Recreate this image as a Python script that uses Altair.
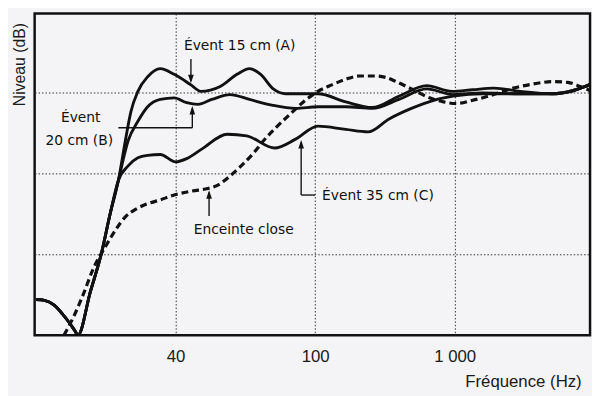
import altair as alt
import pandas as pd

# ---- axis definitions (positions along a schematic log-frequency axis) ----
x_ticks = [1, 2, 3]
x_tick_labels = ["40", "100", "1 000"]
y_grid = [10, 20, 30]

# ---- common start (low-frequency lobe + steep rise), shared by the 3 vented curves ----
start_x = [0.00, 0.06, 0.13, 0.19, 0.24, 0.28, 0.30, 0.39, 0.47, 0.53, 0.59]
start_y = [4.4, 4.3, 3.7, 2.6, 1.5, 0.5, 0.0, 5.4, 10.2, 14.9, 19.1]

# ---- Évent 15 cm (A) ----
a_x = [0.64, 0.68, 0.73, 0.80, 0.89, 0.99, 1.11, 1.18, 1.32, 1.44, 1.53, 1.61, 1.70, 1.79,
       2.02, 2.22, 2.41, 2.60, 2.80, 2.98, 3.13, 3.28, 3.47, 3.70, 3.84, 3.97]
a_y = [24.0, 27.6, 30.1, 31.9, 32.9, 32.2, 30.9, 30.1, 30.7, 32.2, 32.9, 32.2, 30.4, 29.8,
       29.8, 28.8, 28.1, 29.5, 30.8, 30.1, 30.3, 30.5, 30.1, 29.8, 30.1, 31.0]

# ---- Évent 20 cm (B) ----
b_x = [0.66, 0.73, 0.80, 0.89, 0.99, 1.08, 1.16, 1.26, 1.39, 1.53, 1.69, 1.86, 2.02, 2.22,
       2.41, 2.60, 2.80, 2.99, 3.20, 3.47, 3.70, 3.97]
b_y = [24.0, 26.4, 28.2, 29.1, 29.3, 28.7, 28.5, 29.1, 29.7, 29.1, 28.4, 28.0, 28.2, 28.2,
       28.0, 29.1, 30.4, 29.7, 29.9, 29.8, 29.8, 30.9]

# ---- Évent 35 cm (C) ----
c_x = [0.66, 0.73, 0.80, 0.89, 1.00, 1.08, 1.19, 1.37, 1.51, 1.71, 1.86, 2.02, 2.22, 2.38,
       2.53, 2.69, 2.85, 2.99, 3.20, 3.47, 3.70, 3.97]
c_y = [20.9, 21.9, 22.2, 22.3, 21.4, 21.8, 23.0, 24.8, 24.6, 23.1, 24.2, 25.8, 25.4, 25.1,
       26.7, 28.0, 29.0, 29.5, 29.8, 29.8, 29.8, 30.9]

# ---- Enceinte close (dashed) ----
d_x = [0.20, 0.27, 0.34, 0.41, 0.50, 0.57, 0.64, 0.71, 0.78, 0.89, 0.99, 1.12, 1.23, 1.31,
       1.38, 1.47, 1.56, 1.63, 1.73, 1.84, 1.93, 2.02, 2.12, 2.22, 2.32, 2.43, 2.51, 2.58,
       2.69, 2.82, 2.92, 3.01, 3.13, 3.28, 3.42, 3.56, 3.70, 3.81, 3.90, 3.97]
d_y = [0.0, 2.3, 5.1, 8.2, 11.0, 13.0, 14.6, 15.5, 16.1, 16.7, 17.3, 17.8, 18.1, 18.6,
       19.5, 20.9, 22.5, 24.0, 25.8, 27.6, 29.0, 30.1, 30.9, 31.6, 32.0, 32.0, 31.8, 31.3,
       30.4, 29.3, 28.8, 28.6, 29.0, 29.7, 30.5, 31.0, 31.3, 31.2, 30.7, 30.2]

# ---- annotations ----
label_left_text = ["Évent 15 cm (A)", "Évent 35 cm (C)", "Enceinte close"]
label_left_x = [1.06, 2.05, 1.13]
label_left_y = [35.7, 17.2, 13.0]

label_center_text = ["Évent", "20 cm (B)"]
label_center_x = [0.32, 0.31]
label_center_y = [26.8, 24.0]

# leader segments (x, y, x2, y2)
seg_x = [1.11, 0.59, 1.12, 1.90, 1.90, 1.24]
seg_y = [34.1, 25.6, 25.6, 17.3, 17.3, 14.7]
seg_x2 = [1.11, 1.12, 1.12, 2.00, 1.90, 1.24]
seg_y2 = [31.4, 25.6, 28.0, 17.3, 23.8, 17.6]

# arrow tips
tip_down_x = [1.11]
tip_down_y = [31.1]
tip_up_x = [1.12, 1.90, 1.24]
tip_up_y = [28.3, 24.1, 17.9]

# ---- build tables ----
rows = []
for name, xs, ys in [("A", a_x, a_y), ("B", b_x, b_y), ("C", c_x, c_y)]:
    allx = start_x + xs
    ally = start_y + ys
    for i, (xv, yv) in enumerate(zip(allx, ally)):
        rows.append({"serie": name, "i": i, "x": xv, "y": yv})
solid_df = pd.DataFrame(rows)
dash_df = pd.DataFrame({"x": d_x, "y": d_y, "i": list(range(len(d_x)))})

XDOM = [-0.01, 3.97]
YDOM = [0, 39.7]

label_expr = " : ".join(
    f"datum.value == {v} ? '{t}'" for v, t in zip(x_ticks[:-1], x_tick_labels[:-1])
) + f" : '{x_tick_labels[-1]}'"

x_enc = alt.X(
    "x:Q",
    scale=alt.Scale(domain=XDOM, nice=False, zero=False),
    axis=alt.Axis(
        values=x_ticks,
        labelExpr=label_expr,
        title="Fréquence (Hz)",
        grid=True,
        gridColor="#333333",
        gridDash=[1.5, 2],
        gridWidth=1,
        ticks=False,
        domain=False,
        labelPadding=14,
        labelFont="Liberation Sans",
        labelFontSize=17,
        labelColor="#1a1a1a",
        titleFont="Liberation Sans",
        titleFontSize=17,
        titleFontWeight="normal",
        titleColor="#1a1a1a",
        titleAnchor="start",
        titleAlign="left",
        titleBaseline="alphabetic",
        titleX=436,
        titleY=52,
    ),
)
y_enc = alt.Y(
    "y:Q",
    scale=alt.Scale(domain=YDOM, nice=False, zero=False),
    axis=alt.Axis(
        values=y_grid,
        labels=False,
        ticks=False,
        domain=False,
        grid=True,
        gridColor="#333333",
        gridDash=[1.5, 2],
        gridWidth=1,
        title="Niveau (dB)",
        titleFont="Liberation Sans",
        titleFontSize=16,
        titleFontWeight="normal",
        titleColor="#1a1a1a",
        titleAngle=270,
        titleAlign="right",
        titleBaseline="middle",
        titleX=-15,
        titleY=9,
    ),
)

solid = alt.Chart(solid_df).mark_line(
    color="#111111", strokeWidth=2.9, interpolate="monotone", clip=True
).encode(x=x_enc, y=y_enc, detail="serie:N", order="i:Q")

dashed = alt.Chart(dash_df).mark_line(
    color="#111111", strokeWidth=3.2, strokeDash=[7, 4], interpolate="monotone", clip=True
).encode(x="x:Q", y="y:Q", order="i:Q")

seg_df = pd.DataFrame({"x": seg_x, "y": seg_y, "x2": seg_x2, "y2": seg_y2})
segs = alt.Chart(seg_df).mark_rule(color="#111111", strokeWidth=1.4).encode(
    x="x:Q", y="y:Q", x2="x2:Q", y2="y2:Q"
)

tip_up = alt.Chart(pd.DataFrame({"x": tip_up_x, "y": tip_up_y})).mark_point(
    shape="M0,0L-0.33,1L0.33,1Z", filled=True, color="#111111", size=300, opacity=1
).encode(x="x:Q", y="y:Q")
tip_down = alt.Chart(pd.DataFrame({"x": tip_down_x, "y": tip_down_y})).mark_point(
    shape="M0,0L-0.33,-1L0.33,-1Z", filled=True, color="#111111", size=300, opacity=1
).encode(x="x:Q", y="y:Q")

txt_left = alt.Chart(
    pd.DataFrame({"x": label_left_x, "y": label_left_y, "t": label_left_text})
).mark_text(
    align="left", baseline="middle", font="DejaVu Sans", fontSize=14, color="#111111"
).encode(x="x:Q", y="y:Q", text="t:N")

txt_center = alt.Chart(
    pd.DataFrame({"x": label_center_x, "y": label_center_y, "t": label_center_text})
).mark_text(
    align="center", baseline="middle", font="DejaVu Sans", fontSize=14, color="#111111"
).encode(x="x:Q", y="y:Q", text="t:N")

chart = (
    alt.layer(solid, dashed, segs, tip_up, tip_down, txt_left, txt_center)
    .properties(
        width=563,
        height=326,
        autosize=alt.AutoSizeParams(type="none"),
        padding={"left": 27, "top": 3, "right": 2, "bottom": 59},
        background="#f4f4f6",
    )
    .configure_view(stroke="#111111", strokeWidth=2.5, fill="#f4f4f6")
)

chart.save("out.html", embed_options={"renderer": "svg", "actions": False})
